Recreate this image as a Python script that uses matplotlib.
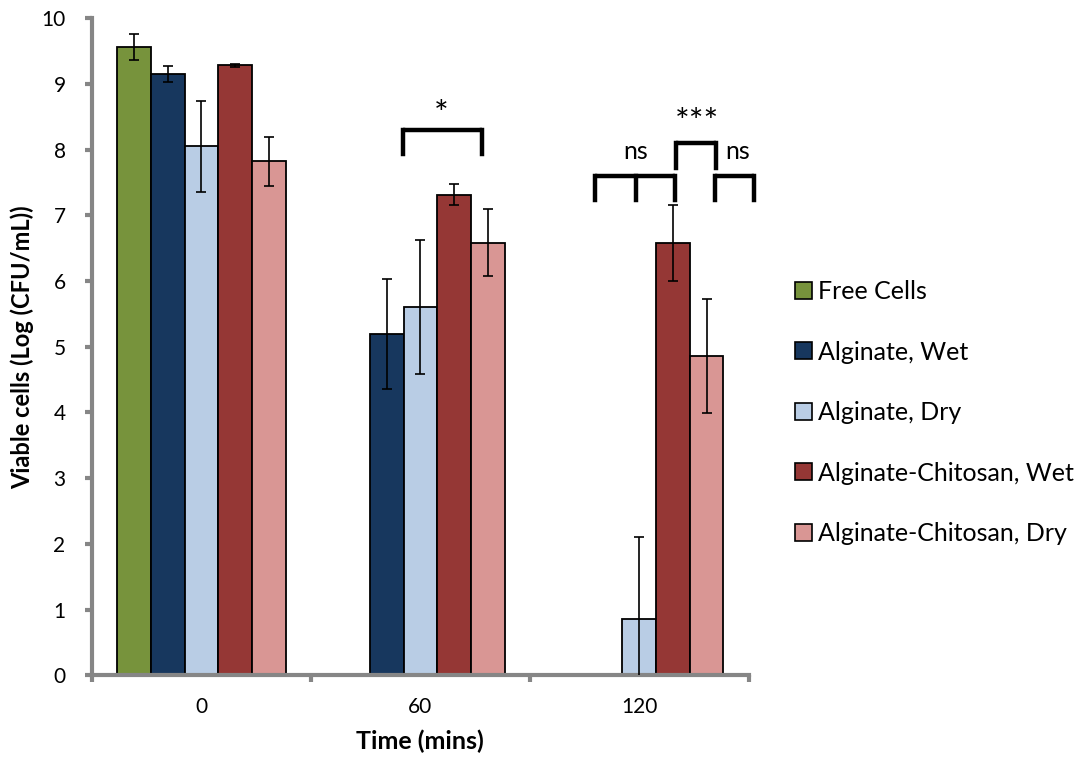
import numpy as np
import matplotlib
matplotlib.use("Agg")
import matplotlib.pyplot as plt
from matplotlib.patches import Patch

plt.rcParams['font.family'] = ['Lato', 'DejaVu Sans']

times = ['0', '60', '120']
groups = ['Free Cells', 'Alginate, Wet', 'Alginate, Dry',
          'Alginate-Chitosan, Wet', 'Alginate-Chitosan, Dry']
colors = ['#77933C', '#17375E', '#B9CDE5', '#953735', '#D99694']

# log CFU/mL per group at 0, 60, 120 min (nan = nothing recovered)
free_cells = [9.56, np.nan, np.nan]
alg_wet = [9.15, 5.19, np.nan]
alg_dry = [8.05, 5.61, 0.85]
ac_wet = [9.28, 7.31, 6.58]
ac_dry = [7.82, 6.58, 4.86]

free_cells_err = [0.20, np.nan, np.nan]
alg_wet_err = [0.12, 0.84, np.nan]
alg_dry_err = [0.69, 1.02, 1.25]
ac_wet_err = [0.02, 0.16, 0.58]
ac_dry_err = [0.37, 0.51, 0.87]

values = [free_cells, alg_wet, alg_dry, ac_wet, ac_dry]
errors = [free_cells_err, alg_wet_err, alg_dry_err, ac_wet_err, ac_dry_err]

fig = plt.figure(figsize=(10.82, 7.57), dpi=100)
ax = fig.add_axes([0.085, 0.108, 0.607, 0.868])

x = np.arange(len(times))
w = 1 / 6.5
for i, (vals, errs, c) in enumerate(zip(values, errors, colors)):
    pos = x + (i - 2) * w
    ax.bar(pos, vals, w, color=c, edgecolor='black', linewidth=1.3, zorder=2)
    ax.errorbar(pos, vals, yerr=errs, fmt='none', ecolor='black',
                elinewidth=1.2, capsize=3.6, capthick=1.2, zorder=3)

# significance brackets
def bracket(xs, top, bottom):
    ax.plot([xs[0], xs[-1]], [top, top], color='black', lw=3.2,
            solid_capstyle='butt', clip_on=False, zorder=4)
    for xx in xs:
        ax.plot([xx, xx], [bottom, top], color='black', lw=3.2,
                solid_capstyle='projecting', clip_on=False, zorder=4)

bracket([0.92, 1.28], 8.30, 7.93)
bracket([1.80, 1.984, 2.162], 7.60, 7.23)
bracket([2.167, 2.349], 8.10, 7.72)
bracket([2.345, 2.523], 7.60, 7.23)

ax.text(1.094, 8.52, '*', ha='center', va='center', fontsize=25)
ax.text(1.984, 7.97, 'ns', ha='center', va='center', fontsize=18)
ax.text(2.262, 8.40, '***', ha='center', va='center', fontsize=25)
ax.text(2.45, 7.97, 'ns', ha='center', va='center', fontsize=18)

ax.set_xlim(-0.5, 2.5)
ax.set_ylim(0, 10)
ax.set_yticks(np.arange(0, 11, 1))
ax.set_xticks(x)
ax.set_xticklabels(times)
ax.set_xticks([-0.5, 0.5, 1.5, 2.5], minor=True)
ax.tick_params(axis='x', which='major', length=0, pad=16, labelsize=15)
ax.tick_params(axis='x', which='minor', length=5, width=3, color='#868686')
ax.tick_params(axis='y', length=5, width=3, color='#868686', pad=14, labelsize=15)

for side in ['top', 'right']:
    ax.spines[side].set_visible(False)
for side in ['left', 'bottom']:
    ax.spines[side].set_color('#868686')
    ax.spines[side].set_linewidth(3)

ax.set_xlabel('Time (mins)', fontsize=18, fontweight='bold', labelpad=9)
ax.set_ylabel('Viable cells (Log (CFU/mL))', fontsize=17, fontweight='bold', labelpad=5)

handles = [Patch(facecolor=c, edgecolor='black', linewidth=1.2) for c in colors]
fig.legend(handles, groups, loc='center left', bbox_to_anchor=(0.714, 0.455),
           frameon=False, fontsize=18, handlelength=0.68, handleheight=0.68,
           handletextpad=0.25, labelspacing=1.5)

fig.savefig('out.png', dpi=100)
